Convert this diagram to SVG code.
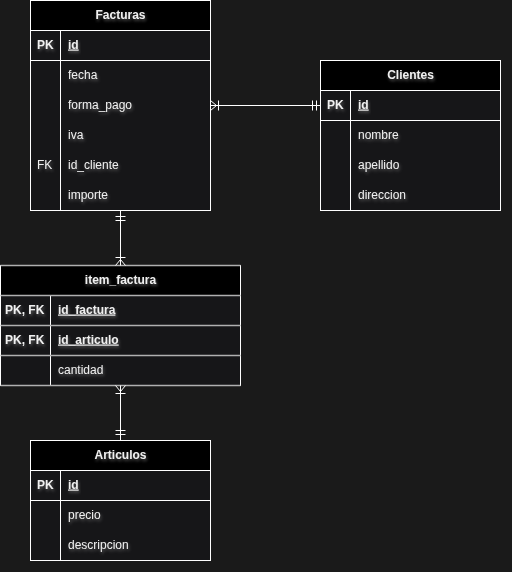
<svg xmlns="http://www.w3.org/2000/svg" width="512" height="572" viewBox="0 0 512 572">
<defs>
<filter id="glow" x="-20%" y="-50%" width="140%" height="200%">
<feGaussianBlur in="SourceAlpha" stdDeviation="1.5" result="b"/>
<feFlood flood-color="#8a8a8a" flood-opacity="0.55"/>
<feComposite in2="b" operator="in" result="s"/>
<feOffset dx="1" dy="1.5"/>
<feMerge><feMergeNode/><feMergeNode in="SourceGraphic"/></feMerge>
</filter>
</defs>
<style>
text{font-family:"Liberation Sans",Arial,sans-serif;font-size:12px;fill:#f0f0f0;filter:url(#glow)}
.h{font-weight:bold;text-anchor:middle}
.b{font-weight:bold}
.u{text-decoration:underline}
.body{fill:#161618;stroke:#ffffff;stroke-width:1}
.head{fill:#000000;stroke:#ffffff;stroke-width:1}
.ln{stroke:#ffffff;stroke-width:1;fill:none}
.gl{stroke:#b0b0b0;stroke-width:1.5;fill:none}
.c{stroke:#ffffff;stroke-width:1;fill:none}
</style>
<rect width="512" height="572" fill="#1a1a1a"/>

<g id="facturas">
<rect class="body" x="30.5" y="0.5" width="180" height="210"/>
<rect class="head" x="30.5" y="0.5" width="180" height="30"/>
<line class="ln" x1="30.5" y1="60.5" x2="210.5" y2="60.5"/>
<line class="ln" x1="60.5" y1="30.5" x2="60.5" y2="210.5"/>
<text class="h" x="120.5" y="18.5">Facturas</text>
<text class="b" x="37" y="48.5">PK</text>
<text class="b u" x="68" y="48.5">id</text>
<text x="68" y="78.5">fecha</text>
<text x="68" y="108.5">forma_pago</text>
<text x="68" y="138.5">iva</text>
<text x="37" y="168.5">FK</text>
<text x="68" y="168.5">id_cliente</text>
<text x="68" y="198.5">importe</text>
</g>

<g id="clientes">
<rect class="body" x="320.5" y="60.5" width="180" height="150"/>
<rect class="head" x="320.5" y="60.5" width="180" height="30"/>
<line class="ln" x1="320.5" y1="120.5" x2="500.5" y2="120.5"/>
<line class="ln" x1="350.5" y1="90.5" x2="350.5" y2="210.5"/>
<text class="h" x="410.5" y="78.5">Clientes</text>
<text class="b" x="327" y="108.5">PK</text>
<text class="b u" x="358" y="108.5">id</text>
<text x="358" y="138.5">nombre</text>
<text x="358" y="168.5">apellido</text>
<text x="358" y="198.5">direccion</text>
</g>

<g id="item_factura">
<rect class="body" x="0.5" y="265.5" width="240" height="120"/>
<rect class="head" x="0.5" y="265.5" width="240" height="30"/>
<line class="ln" x1="50.5" y1="295.5" x2="50.5" y2="385.5"/>
<line class="gl" x1="0.5" y1="295.5" x2="240.5" y2="295.5"/>
<line class="gl" x1="0.5" y1="325.5" x2="240.5" y2="325.5"/>
<line class="gl" x1="0.5" y1="355.5" x2="240.5" y2="355.5"/>
<line class="gl" x1="0.5" y1="385.5" x2="240.5" y2="385.5"/>
<line class="gl" x1="0.5" y1="265.5" x2="240.5" y2="265.5"/>
<text class="h" x="120.5" y="283.5">item_factura</text>
<text class="b" x="5" y="313.5">PK, FK</text>
<text class="b u" x="58" y="313.5">id_factura</text>
<text class="b" x="5" y="343.5">PK, FK</text>
<text class="b u" x="58" y="343.5">id_articulo</text>
<text x="58" y="373.5">cantidad</text>
</g>

<g id="articulos">
<rect class="body" x="30.5" y="440.5" width="180" height="120"/>
<rect class="head" x="30.5" y="440.5" width="180" height="30"/>
<line class="ln" x1="30.5" y1="500.5" x2="210.5" y2="500.5"/>
<line class="ln" x1="60.5" y1="470.5" x2="60.5" y2="560.5"/>
<text class="h" x="120.5" y="458.5">Articulos</text>
<text class="b" x="37" y="488.5">PK</text>
<text class="b u" x="68" y="488.5">id</text>
<text x="68" y="518.5">precio</text>
<text x="68" y="548.5">descripcion</text>
</g>

<g id="connectors">
<!-- Facturas - Clientes -->
<line class="c" x1="210.5" y1="105.5" x2="320.5" y2="105.5"/>
<path class="c" d="M210.5 100.5 L216.5 105.5 L210.5 110.5"/>
<line class="c" x1="218.5" y1="100.5" x2="218.5" y2="110.5"/>
<line class="c" x1="312.5" y1="100.5" x2="312.5" y2="110.5"/>
<line class="c" x1="316.5" y1="100.5" x2="316.5" y2="110.5"/>
<!-- Facturas - item_factura -->
<line class="c" x1="120.5" y1="210.5" x2="120.5" y2="265.5"/>
<line class="c" x1="115.5" y1="216.5" x2="125.5" y2="216.5"/>
<line class="c" x1="115.5" y1="220.5" x2="125.5" y2="220.5"/>
<path class="c" d="M115.5 265.5 L120.5 259.5 L125.5 265.5"/>
<line class="c" x1="115.5" y1="257.5" x2="125.5" y2="257.5"/>
<!-- item_factura - Articulos -->
<line class="c" x1="120.5" y1="385.5" x2="120.5" y2="440.5"/>
<path class="c" d="M115.5 385.5 L120.5 391.5 L125.5 385.5"/>
<line class="c" x1="115.5" y1="393.5" x2="125.5" y2="393.5"/>
<line class="c" x1="115.5" y1="430.5" x2="125.5" y2="430.5"/>
<line class="c" x1="115.5" y1="434.5" x2="125.5" y2="434.5"/>
</g>
</svg>
